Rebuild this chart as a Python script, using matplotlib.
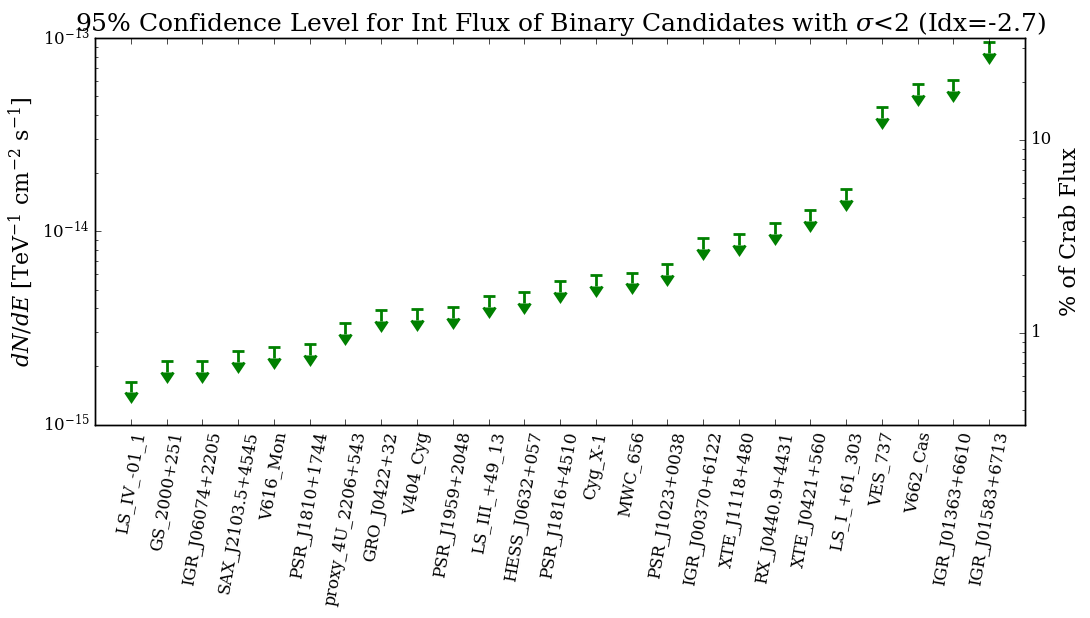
import matplotlib
matplotlib.use('Agg')
import matplotlib.pyplot as plt
import matplotlib.ticker as ticker
import numpy as np

plt.style.use('classic')
plt.rcParams['font.family'] = 'serif'
plt.rcParams['font.serif'] = ['DejaVu Serif']
plt.rcParams['mathtext.fontset'] = 'dejavuserif'

# Кандидати та верхні межі потоку (95% CL)
sources = ['LS_IV_-01_1', 'GS_2000+251', 'IGR_J06074+2205', 'SAX_J2103.5+4545',
           'V616_Mon', 'PSR_J1810+1744', 'proxy_4U_2206+543', 'GRO_J0422+32',
           'V404_Cyg', 'PSR_J1959+2048', 'LS_III_+49_13', 'HESS_J0632+057',
           'PSR_J1816+4510', 'Cyg_X-1', 'MWC_656', 'PSR_J1023+0038',
           'IGR_J00370+6122', 'XTE_J1118+480', 'RX_J0440.9+4431', 'XTE_J0421+560',
           'LS_I_+61_303', 'VES_737', 'V662_Cas', 'IGR_J01363+6610', 'IGR_J01583+6713']
flux_ul = np.array([1.67, 2.13, 2.13, 2.40, 2.52, 2.61, 3.35, 3.92, 3.96, 4.05,
                    4.63, 4.86, 5.54, 5.95, 6.11, 6.78, 9.24, 9.69, 11.05, 12.86,
                    16.52, 44.1, 57.8, 60.6, 95.4]) * 1e-15

crab_flux = 2.98e-13  # 100% Crab
arrow_frac = 0.12

fig = plt.figure(figsize=(10.9, 6.18), dpi=100)
ax = fig.add_axes([0.0872, 0.313, 0.8532, 0.625])

x = np.arange(len(sources))
eb = ax.errorbar(x, flux_ul, yerr=arrow_frac * flux_ul, uplims=True, fmt='none',
                 ecolor='green', elinewidth=2, capsize=4.5, capthick=2)
# стрілки повністю зелені
for cap in eb[1]:
    cap.set_markerfacecolor('green')
    cap.set_markeredgecolor('green')

ax.set_yscale('log')
ax.set_ylim(1e-15, 1e-13)
ax.set_xlim(-1, len(sources))
ax.set_xticks(x)
ax.set_xticklabels(sources, rotation=80, fontsize=12)
ax.tick_params(axis='y', labelsize=12)
ax.set_ylabel(r'$dN/dE$ [TeV$^{-1}$ cm$^{-2}$ s$^{-1}$]', fontsize=16)
ax.set_title(r'95% Confidence Level for Int Flux of Binary Candidates with $\sigma$<2 (Idx=-2.7)',
             fontsize=18)

# Права вісь у відсотках від потоку Крабу
ax2 = ax.twinx()
ax2.set_yscale('log')
ax2.set_ylim(1e-15 / crab_flux * 100, 1e-13 / crab_flux * 100)
ax2.yaxis.set_major_formatter(ticker.FormatStrFormatter('%g'))
ax2.tick_params(axis='y', labelsize=12)
ax2.set_ylabel('% of Crab Flux', fontsize=16)

fig.savefig('out.png', dpi=100, facecolor='white')
